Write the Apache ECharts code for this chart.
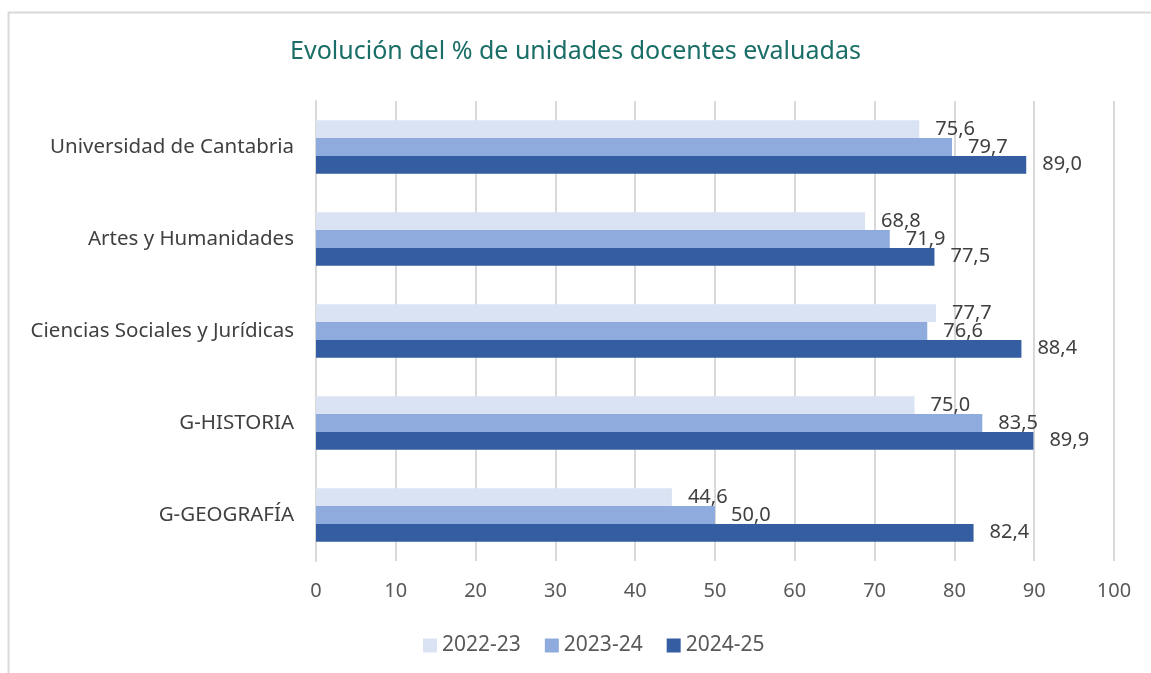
<!DOCTYPE html>
<html>
<head>
<meta charset="utf-8">
<script src="https://cdn.jsdelivr.net/npm/echarts@6/dist/echarts.min.js"></script>
<style>
  html, body { margin: 0; padding: 0; background: #fff; }
  #chart { width: 1151px; height: 673px; }
</style>
</head>
<body>
<div id="chart"></div>
<script>
// categorias, de arriba a abajo
const categories = ['Universidad de Cantabria', 'Artes y Humanidades', 'Ciencias Sociales y Jurídicas', 'G-HISTORIA', 'G-GEOGRAFÍA'];
const years = ['2022-23', '2023-24', '2024-25'];
const v2022 = [75.6, 68.8, 77.7, 75.0, 44.6];
const v2023 = [79.7, 71.9, 76.6, 83.5, 50.0];
const v2024 = [89.0, 77.5, 88.4, 89.9, 82.4];
const colors = ['#DAE3F3', '#8FAADC', '#345DA2'];

const font = 'Noto Sans';
const fmt = p => p.value.toFixed(1).replace('.', ',');

const mkSeries = (name, data, i) => ({
  name: name,
  type: 'bar',
  data: data,
  barGap: '0%',
  barCategoryGap: '42%',
  itemStyle: { color: colors[i] },
  label: {
    show: true,
    position: 'right',
    distance: 16,
    formatter: fmt,
    color: '#404040',
    fontFamily: font,
    fontSize: 20
  }
});

var myChart = echarts.init(document.getElementById('chart'));
let option = {
  animation: false,
  title: {
    text: 'Evolución del % de unidades docentes evaluadas',
    left: 'center',
    top: 34,
    textStyle: { color: '#1B6E67', fontFamily: font, fontSize: 25, fontWeight: 'normal' }
  },
  legend: {
    data: years,
    bottom: 12,
    left: 418,
    itemWidth: 14,
    itemHeight: 14,
    itemGap: 24,
    icon: 'rect',
    textStyle: { color: '#595959', fontFamily: font, fontSize: 21 }
  },
  grid: { left: 316, right: 37, top: 101, bottom: 112 },
  xAxis: {
    type: 'value',
    min: 0,
    max: 100,
    interval: 10,
    axisLine: { show: false },
    axisTick: { show: false },
    splitLine: { lineStyle: { color: '#D9D9D9', width: 2 } },
    axisLabel: { color: '#595959', fontFamily: font, fontSize: 20, margin: 20 }
  },
  yAxis: {
    type: 'category',
    inverse: true,
    data: categories,
    axisLine: { show: true, lineStyle: { color: '#D9D9D9', width: 2 } },
    axisTick: { show: false },
    axisLabel: { color: '#404040', fontFamily: font, fontSize: 20.5, margin: 22 }
  },
  series: [
    mkSeries(years[0], v2022, 0),
    mkSeries(years[1], v2023, 1),
    mkSeries(years[2], v2024, 2)
  ],
  graphic: [{
    type: 'rect',
    shape: { x: 8.5, y: 12.5, width: 1200, height: 700 },
    style: { fill: null, stroke: '#D9D9D9', lineWidth: 2 },
    silent: true
  }]
};
myChart.setOption(option);
</script>
</body>
</html>
